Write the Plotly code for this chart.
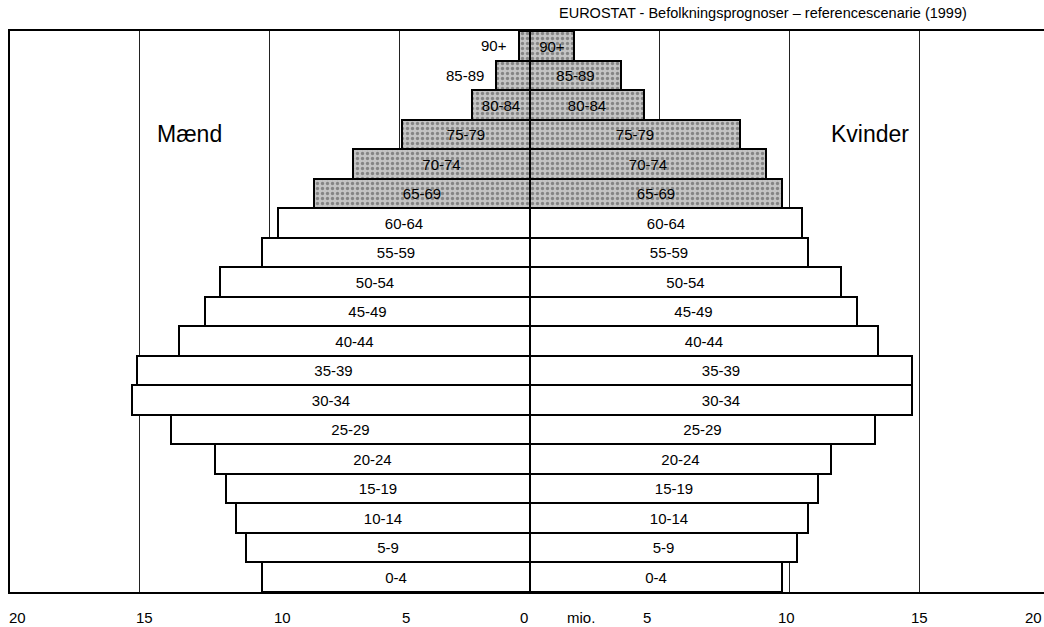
import plotly.graph_objects as go

ages = ["0-4", "5-9", "10-14", "15-19", "20-24", "25-29", "30-34", "35-39",
        "40-44", "45-49", "50-54", "55-59", "60-64", "65-69", "70-74",
        "75-79", "80-84", "85-89", "90+"]
men = [10.3, 10.9, 11.3, 11.7, 12.1, 13.8, 15.3, 15.1, 13.5, 12.5, 11.9,
       10.3, 9.7, 8.3, 6.8, 4.9, 2.2, 1.3, 0.4]
women = [9.7, 10.3, 10.7, 11.1, 11.6, 13.3, 14.7, 14.7, 13.4, 12.6, 12.0,
         10.7, 10.5, 9.7, 9.1, 8.1, 4.4, 3.5, 1.7]
old_groups = ["65-69", "70-74", "75-79", "80-84", "85-89", "90+"]
men_outside = ["85-89", "90+"]
tick_values = [-19.73, -14.84, -9.53, -4.76, -0.22, 4.52, 9.87, 15.0, 19.38]
tick_labels = ["20", "15", "10", "5", "0", "5", "10", "15", "20"]
unit_label = "mio."
title_text = "EUROSTAT - Befolkningsprognoser \u2013 referencescenarie (1999)"

FONT = "Liberation Sans, Arial, sans-serif"
fill = ["#c4c4c4" if a in old_groups else "white" for a in ages]
shapes_pat = ["." if a in old_groups else "" for a in ages]
pattern = dict(shape=shapes_pat, fgcolor="#6a6a6a",
               size=5, solidity=0.35, fillmode="overlay")

fig = go.Figure()
fig.add_trace(go.Bar(
    y=ages, x=[-v for v in men], orientation="h", base=0,
    marker=dict(color=fill, line=dict(color="black", width=2), pattern=pattern),
    text=["" if a in men_outside else a for a in ages],
    textposition="inside", insidetextanchor="middle", textangle=0,
    constraintext="none",
    textfont=dict(family=FONT, size=15, color="black"),
    hoverinfo="skip", showlegend=False,
))
fig.add_trace(go.Bar(
    y=ages, x=women, orientation="h", base=0,
    marker=dict(color=fill, line=dict(color="black", width=2), pattern=pattern),
    text=ages, textposition="inside", insidetextanchor="middle", textangle=0,
    constraintext="none",
    textfont=dict(family=FONT, size=15, color="black"),
    hoverinfo="skip", showlegend=False,
))

annotations = []
for a, v in zip(ages, men):
    if a in men_outside:
        annotations.append(dict(x=-v, y=a, xref="x", yref="y", text=a,
                                showarrow=False, xanchor="right", xshift=-10,
                                font=dict(family=FONT, size=15, color="black")))
for tv, tl in zip(tick_values, tick_labels):
    annotations.append(dict(x=tv, y=0, xref="x", yref="paper", text=tl,
                            showarrow=False, xanchor="center", yanchor="middle",
                            yshift=-25, font=dict(family=FONT, size=15, color="black")))
annotations.append(dict(x=1.98, y=0, xref="x", yref="paper", text=unit_label,
                        showarrow=False, xanchor="center", yanchor="middle",
                        yshift=-25, font=dict(family=FONT, size=15, color="black")))
annotations.append(dict(x=-13.1, y="75-79", xref="x", yref="y", text="Mænd",
                        showarrow=False, font=dict(family=FONT, size=23, color="black")))
annotations.append(dict(x=13.1, y="75-79", xref="x", yref="y", text="Kvinder",
                        showarrow=False, font=dict(family=FONT, size=23, color="black")))
annotations.append(dict(x=0.9275, y=1, xref="paper", yref="paper", text=title_text,
                        showarrow=False, xanchor="right", yanchor="middle",
                        yshift=18, font=dict(family=FONT, size=14.5, color="black")))

fig.update_layout(
    width=1044, height=627,
    margin=dict(l=10, r=0, t=31, b=35),
    paper_bgcolor="white", plot_bgcolor="white",
    barmode="overlay", bargap=0,
    annotations=annotations,
    font=dict(family=FONT, size=15, color="black"),
    xaxis=dict(range=[-20, 19.8], tickvals=[-15, -10, -5, 5, 10, 15],
               showticklabels=False, ticks="", showgrid=True,
               gridcolor="#222222", gridwidth=1,
               zeroline=True, zerolinecolor="black", zerolinewidth=3,
               showline=True, linecolor="black", linewidth=2, mirror=True,
               fixedrange=True),
    yaxis=dict(type="category", categoryorder="array", categoryarray=ages,
               range=[-0.5, len(ages) - 0.5], showticklabels=False, ticks="",
               showgrid=False, zeroline=False,
               showline=True, linecolor="black", linewidth=2, mirror=False,
               fixedrange=True),
)

fig.write_html("out.html", post_script="document.body.style.margin='0';",
               config={"displayModeBar": False})
